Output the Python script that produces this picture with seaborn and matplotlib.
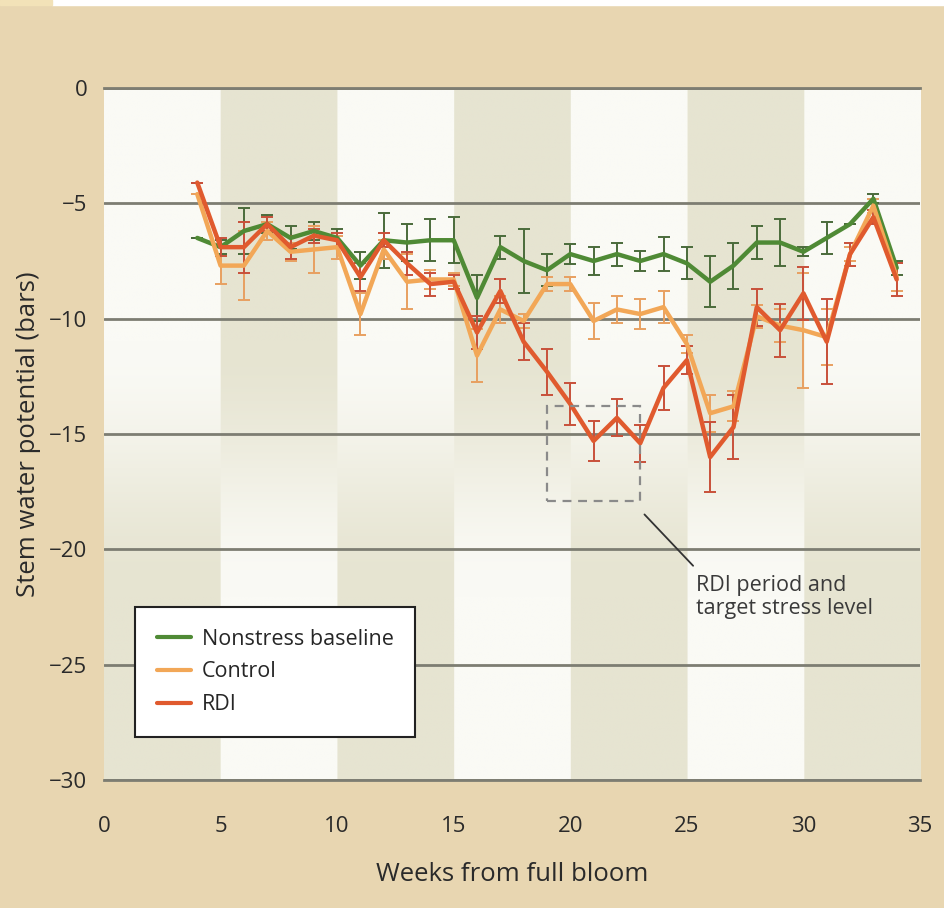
import numpy as np
import pandas as pd
import matplotlib
matplotlib.use("Agg")
import matplotlib.pyplot as plt
from matplotlib.patches import Rectangle
import seaborn as sns

# ---------------- data ----------------
weeks = list(range(4, 35))

nonstress = [-6.5, -6.9, -6.2, -5.9, -6.5, -6.2, -6.5, -7.7, -6.6, -6.7, -6.6, -6.6,
             -9.1, -6.9, -7.5, -7.9, -7.2, -7.5, -7.2, -7.5, -7.2, -7.6, -8.4, -7.7,
             -6.7, -6.7, -7.1, -6.5, -5.9, -4.8, -7.8]
nonstress_err = [0.0, 0.3, 1.0, 0.4, 0.5, 0.4, 0.4, 0.6, 1.2, 0.8, 0.9, 1.0,
                 1.0, 0.5, 1.4, 0.7, 0.45, 0.6, 0.5, 0.45, 0.75, 0.7, 1.1, 1.0,
                 0.7, 1.0, 0.2, 0.7, 0.0, 0.2, 0.3]

control = [-4.6, -7.7, -7.7, -6.2, -7.1, -7.0, -6.9, -9.8, -7.0, -8.4, -8.3, -8.3,
           -11.6, -9.6, -10.1, -8.5, -8.5, -10.1, -9.6, -9.8, -9.5, -11.1, -14.1, -13.8,
           -9.9, -10.3, -10.5, -10.8, -7.2, -5.1, -8.2]
control_err = [0.0, 0.8, 1.5, 0.4, 0.4, 1.0, 0.5, 0.9, 0.4, 1.2, 0.4, 0.3,
               1.15, 0.6, 0.3, 0.3, 0.3, 0.8, 0.6, 0.65, 0.7, 0.4, 0.8, 0.65,
               0.5, 0.7, 2.5, 1.2, 0.3, 0.3, 0.6]

rdi = [-4.1, -6.9, -6.9, -5.9, -6.9, -6.4, -6.6, -8.2, -6.6, -7.6, -8.5, -8.4,
       -10.6, -8.8, -11.0, -12.3, -13.7, -15.3, -14.3, -15.4, -13.0, -11.8, -16.0, -14.7,
       -9.5, -10.5, -8.9, -11.0, -7.2, -5.6, -8.3]
rdi_err = [0.0, 0.4, 1.1, 0.3, 0.5, 0.3, 0.3, 0.6, 0.3, 0.5, 0.5, 0.3,
           0.7, 0.5, 0.8, 1.0, 0.9, 0.85, 0.8, 0.8, 0.95, 0.6, 1.5, 1.4,
           0.8, 1.15, 1.15, 1.85, 0.5, 0.3, 0.7]

series_names = ["Nonstress baseline", "Control", "RDI"]
series_colors = ["#4f8a35", "#f2a757", "#e05a2e"]
err_colors = ["#4a6b3a", "#e8a060", "#c8503a"]

x_ticks = [0, 5, 10, 15, 20, 25, 30, 35]
y_ticks = [0, -5, -10, -15, -20, -25, -30]

rdi_box_weeks = [19, 23]
rdi_box_levels = [-17.9, -13.8]
annotation_text = "RDI period and\ntarget stress level"

# ---------------- build frame ----------------
df = pd.concat([
    pd.DataFrame({"week": weeks, "value": v, "err": e, "series": n})
    for n, v, e in zip(series_names, [nonstress, control, rdi],
                       [nonstress_err, control_err, rdi_err])
], ignore_index=True)

sns.set_theme(style="white")
plt.rcParams["font.family"] = ["Open Sans", "DejaVu Sans"]

bg = "#e8d6b1"
fig = plt.figure(figsize=(9.44, 9.08), dpi=100, facecolor=bg)
ax = fig.add_axes([104 / 944, 1 - 780 / 908, 816 / 944, 692 / 908])
ax.set_facecolor("#fafaf5")

# top white strip
fig.patches.append(Rectangle((52 / 944, 1 - 5 / 908), 1, 5 / 908,
                             transform=fig.transFigure, color="white", zorder=0))
fig.patches.append(Rectangle((0, 1 - 5 / 908), 52 / 944, 5 / 908,
                             transform=fig.transFigure, color="#f2e2b8", zorder=0))

# background checkerboard with vertical gradient
nx, ny = 700, 300
xs = np.linspace(0, 35, nx, endpoint=False) + 35 / nx / 2
ys = np.linspace(0, -30, ny)
band = (xs // 5).astype(int) % 2  # 1 for shaded at top
t = np.clip((-ys - 11) / (22 - 11), 0, 1)
t = t * t * (3 - 2 * t)
top = band[None, :].astype(float)
shade = top * (1 - t[:, None]) + (1 - top) * t[:, None]
white = np.array([250, 250, 245]) / 255
dark = np.array([230, 228, 209]) / 255
img = white[None, None, :] * (1 - shade[..., None]) + dark[None, None, :] * shade[..., None]
ax.imshow(img, extent=[0, 35, -30, 0], aspect="auto", interpolation="bilinear", zorder=0)

# lines
palette = dict(zip(series_names, series_colors))
sns.lineplot(data=df, x="week", y="value", hue="series", palette=palette,
             hue_order=series_names, linewidth=3.2, ax=ax, zorder=3, legend=True)

for n, ec in zip(series_names, err_colors):
    sub = df[df["series"] == n]
    ax.errorbar(sub["week"], sub["value"], yerr=sub["err"], fmt="none",
                ecolor=ec, elinewidth=1.4, capsize=4, capthick=1.4, zorder=2.5)

# dashed RDI box
ax.add_patch(Rectangle((rdi_box_weeks[0], rdi_box_levels[0]),
                       rdi_box_weeks[1] - rdi_box_weeks[0],
                       rdi_box_levels[1] - rdi_box_levels[0],
                       fill=False, ls=(0, (4, 3)), lw=1.6, ec="#8a8a8a", zorder=4))
ax.annotate("", xy=(23.1, -18.4), xytext=(25.35, -20.8),
            arrowprops=dict(arrowstyle="-", color="#333333", lw=1.3))
ax.text(25.4, -21.1, annotation_text, ha="left", va="top", fontsize=15.5,
        color="#3a3a3a", linespacing=1.12)

# axes styling
ax.set_xlim(0, 35)
ax.set_ylim(-30, 0)
ax.set_xticks(x_ticks)
ax.set_yticks(y_ticks)
ax.set_yticklabels(["0" if v == 0 else "\u2212" + str(-v) for v in y_ticks])
ax.yaxis.grid(True, color="#7d7d72", lw=2)
ax.xaxis.grid(False)
for s in ["left", "right"]:
    ax.spines[s].set_visible(False)
for s in ["top", "bottom"]:
    ax.spines[s].set_color("#7d7d72")
    ax.spines[s].set_linewidth(2)
ax.tick_params(axis="both", length=0, labelsize=16, colors="#2a2a2a")
ax.tick_params(axis="x", pad=26)
ax.tick_params(axis="y", pad=12)
ax.set_xlabel("Weeks from full bloom", fontsize=18.5, color="#2a2a2a", labelpad=18)
ax.set_ylabel("Stem water potential (bars)", fontsize=18.5, color="#2a2a2a", labelpad=6)

leg = ax.legend(loc="upper left", bbox_to_anchor=(0.038, 0.25), borderaxespad=0,
                frameon=True, fancybox=False, edgecolor="#222222", facecolor="white",
                framealpha=1, fontsize=15.5, handlelength=1.6, handletextpad=0.5,
                borderpad=1.0, labelspacing=0.55, title=None)
leg.get_frame().set_linewidth(1.5)
for line in leg.get_lines():
    line.set_linewidth(3)

fig.savefig("out.png", dpi=100, facecolor=bg)
